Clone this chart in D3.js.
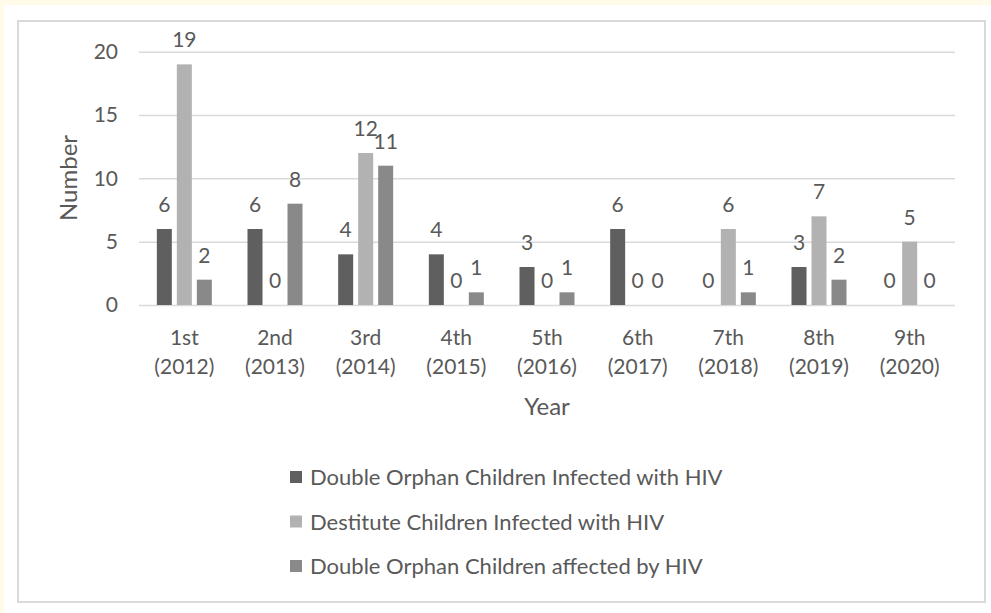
<!DOCTYPE html>
<html>
<head>
<meta charset="utf-8">
<script src="https://cdn.jsdelivr.net/npm/d3@7"></script>
<style>
  body { margin: 0; background: #fffbe8; }
  svg { display: block; }
  text { font-family: Lato, "Open Sans", sans-serif; fill: #595959; }
</style>
</head>
<body>
<svg id="chart"></svg>
<script>
// categories (two lines each)
var categories = ["1st|(2012)", "2nd|(2013)", "3rd|(2014)", "4th|(2015)", "5th|(2016)",
                  "6th|(2017)", "7th|(2018)", "8th|(2019)", "9th|(2020)"];
var seriesNames = ["Double Orphan Children Infected with HIV",
                   "Destitute Children Infected with HIV",
                   "Double Orphan Children affected by HIV"];
var orphanInfected = [6, 6, 4, 4, 3, 6, 0, 3, 0];
var destituteInfected = [19, 0, 12, 0, 0, 0, 6, 7, 5];
var orphanAffected = [2, 8, 11, 1, 1, 0, 1, 2, 0];
var yTicks = [0, 5, 10, 15, 20];
var colors = ["#5f5f5f", "#b2b2b2", "#898989"];

function init(){
    var width = 991;
    var height = 613;
    var svg = d3.select("#chart").attr("width", width).attr("height", height);

    // white panel + border
    svg.append("rect").attr("x", 4).attr("y", 5).attr("width", width - 4).attr("height", height - 5)
        .attr("fill", "#fff");
    svg.append("rect").attr("x", 18).attr("y", 21).attr("width", 967).attr("height", 581)
        .attr("fill", "none").attr("stroke", "#d9d9d9").attr("stroke-width", 2);

    var left = 139, right = 955, top = 51.7, bottom = 305;
    var seriesData = [orphanInfected, destituteInfected, orphanAffected];

    var x = d3.scaleBand().domain(categories).range([left, right]);
    // bars 15px wide, 5px apart
    var step = 20;
    var po = (x.bandwidth() - 3 * step + 0.25 * step) / (2 * step);
    var x1 = d3.scaleBand().domain([0, 1, 2]).range([0, x.bandwidth()])
                .paddingInner(0.25).paddingOuter(po);
    var y = d3.scaleLinear().domain([0, 20]).range([bottom, top]);

    // gridlines + y tick labels
    var yAxis = svg.append("g").attr("transform", "translate(" + left + ",0)")
        .call(d3.axisLeft(y).tickValues(yTicks).tickSize(-(right - left)).tickPadding(21));
    yAxis.select(".domain").remove();
    yAxis.selectAll("line").attr("stroke", "#d9d9d9").attr("stroke-width", 1.5);
    yAxis.selectAll("text").attr("font-size", 21).attr("fill", "#595959")
        .style("font-family", "Lato, sans-serif");

    // x axis labels
    var xAxis = svg.append("g").attr("transform", "translate(0," + bottom + ")")
        .call(d3.axisBottom(x).tickSize(0).tickFormat(""));
    xAxis.select(".domain").remove();
    xAxis.selectAll(".tick").append("text")
        .attr("text-anchor", "middle")
        .attr("font-size", 21)
        .each(function(d){
            var parts = d.split("|");
            var t = d3.select(this);
            t.append("tspan").attr("x", 0).attr("y", 40).text(parts[0]);
            t.append("tspan").attr("x", 0).attr("y", 69).text(parts[1]);
        });

    // bars and labels
    for(var s=0;s<seriesData.length;s++){
        var g = svg.append("g");
        g.selectAll("rect")
            .data(seriesData[s])
            .enter()
            .append("rect")
            .attr("x", function(d,i){ return x(categories[i]) + x1(s); })
            .attr("y", function(d){ return y(d); })
            .attr("width", x1.bandwidth())
            .attr("height", function(d){ return bottom - y(d); })
            .attr("fill", colors[s]);
        g.selectAll("text")
            .data(seriesData[s])
            .enter()
            .append("text")
            .attr("x", function(d,i){ return x(categories[i]) + x1(s) + x1.bandwidth()/2; })
            .attr("y", function(d){ return y(d) - 17; })
            .attr("text-anchor", "middle")
            .attr("font-size", 21)
            .text(function(d){ return d; });
    }

    // axis titles
    svg.append("text")
        .attr("transform", "translate(77,178) rotate(-90)")
        .attr("text-anchor", "middle")
        .attr("font-size", 24)
        .text("Number");
    svg.append("text")
        .attr("x", 547).attr("y", 415)
        .attr("text-anchor", "middle")
        .attr("font-size", 24)
        .text("Year");

    // legend
    var leg = svg.append("g");
    leg.selectAll("rect")
        .data(seriesNames)
        .enter()
        .append("rect")
        .attr("x", 290)
        .attr("y", function(d,i){ return 471 + i*44.5; })
        .attr("width", 12).attr("height", 12)
        .attr("fill", function(d,i){ return colors[i]; });
    leg.selectAll("text")
        .data(seriesNames)
        .enter()
        .append("text")
        .attr("x", 310)
        .attr("y", function(d,i){ return 485 + i*44.5; })
        .attr("font-size", 22)
        .text(function(d){ return d; });
}
init();
</script>
</body>
</html>
